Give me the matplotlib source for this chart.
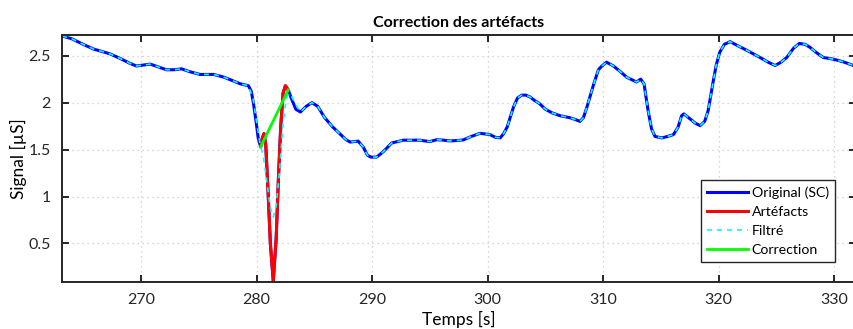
import numpy as np
import matplotlib
matplotlib.use("Agg")
import matplotlib.pyplot as plt

# =====================
# DATA
# =====================
t_orig = [263.16, 264.0, 265.0, 265.9, 267.3, 268.2, 269.0, 269.6, 270.2, 270.8,
          271.5, 272.2, 272.9, 273.5, 274.2, 275.1, 276.3, 277.2, 278.0, 278.6,
          279.3, 279.55, 279.75, 279.96, 280.15, 280.36,
          280.5, 280.65, 280.8, 281.0, 281.2, 281.45, 281.7, 281.9, 282.1, 282.3,
          282.5, 282.75,
          283.0, 283.4, 283.8, 284.3, 284.8, 285.3, 285.9, 286.6, 287.2, 287.7,
          288.1, 288.8, 289.25, 289.6, 289.9, 290.4, 291.0, 291.7, 292.7, 293.5,
          294.15, 295.0, 295.6, 296.2, 296.75, 297.4, 297.9, 298.6, 299.35, 300.2,
          300.7, 301.1, 301.4, 301.7, 302.24, 302.6, 302.96, 303.3, 303.68, 304.1,
          304.5, 305.0, 305.6, 306.3, 307.1, 307.6, 308.0, 308.3, 308.6, 309.2,
          309.6, 309.9, 310.3, 310.9, 311.5, 312.05, 312.9, 313.26, 313.55, 313.9,
          314.2, 314.5, 315.08, 315.6, 316.1, 316.5, 316.8, 317.0, 317.5, 318.0,
          318.4, 318.8, 319.1, 319.55, 319.8, 320.1, 320.5, 321.0, 321.6, 322.4,
          323.0, 323.6, 324.3, 324.9, 325.4, 325.9, 326.5, 327.0, 327.5, 327.9,
          328.5, 329.07, 329.6, 330.2, 330.9, 331.7]
sc_orig = [2.71, 2.68, 2.62, 2.57, 2.52, 2.47, 2.42, 2.39, 2.40, 2.41,
           2.38, 2.35, 2.35, 2.36, 2.33, 2.30, 2.30, 2.27, 2.23, 2.20,
           2.18, 2.12, 1.98, 1.80, 1.62, 1.53,
           1.62, 1.67, 1.55, 1.05, 0.50, 0.10, 0.55, 1.20, 1.75, 2.10,
           2.18, 2.135,
           2.05, 1.93, 1.90, 1.96, 2.00, 1.96, 1.84, 1.74, 1.67, 1.61,
           1.58, 1.59, 1.525, 1.44, 1.42, 1.42, 1.48, 1.57, 1.60, 1.60,
           1.60, 1.585, 1.605, 1.60, 1.592, 1.597, 1.603, 1.64, 1.673, 1.66,
           1.63, 1.625, 1.67, 1.74, 1.95, 2.05, 2.08, 2.08, 2.06, 2.02,
           1.99, 1.93, 1.89, 1.86, 1.84, 1.82, 1.80, 1.84, 1.95, 2.20,
           2.35, 2.39, 2.43, 2.39, 2.33, 2.27, 2.22, 2.25, 2.20, 1.915,
           1.72, 1.64, 1.624, 1.64, 1.66, 1.74, 1.86, 1.88, 1.83, 1.78,
           1.755, 1.80, 1.915, 2.234, 2.40, 2.535, 2.62, 2.649, 2.61, 2.56,
           2.52, 2.48, 2.43, 2.395, 2.43, 2.48, 2.58, 2.63, 2.62, 2.59,
           2.53, 2.48, 2.47, 2.455, 2.43, 2.394]

# artefact window
art_start, art_end = 280.36, 282.75

# filtered signal differs from original only around the artefact
t_filt_art = [279.3, 279.7, 280.0, 280.3, 280.6, 280.9, 281.2, 281.45, 281.7,
              282.0, 282.3, 282.6, 282.9, 283.3, 283.8]
sc_filt_art = [2.18, 2.04, 1.80, 1.56, 1.42, 1.15, 0.88, 0.78, 0.90,
               1.28, 1.78, 2.06, 2.10, 2.00, 1.90]

# linear correction across the artefact
t_corr = [280.36, 282.75]
sc_corr = [1.53, 2.135]

labels = ["Original (SC)", "Artéfacts", "Filtré", "Correction"]

# =====================
# BUILD SERIES
# =====================
t_orig = np.array(t_orig)
sc_orig = np.array(sc_orig)
art = (t_orig >= art_start) & (t_orig <= art_end)

before = t_orig < t_filt_art[0]
after = t_orig > t_filt_art[-1]
t_filt = np.concatenate([t_orig[before], t_filt_art, t_orig[after]])
sc_filt = np.concatenate([sc_orig[before], sc_filt_art, sc_orig[after]])

# =====================
# PLOT
# =====================
plt.rcParams['font.family'] = ['Lato', 'DejaVu Sans']
fig = plt.figure(figsize=(8.54, 3.29), dpi=100)
ax = fig.add_axes([62 / 854, 1 - 282 / 329, 794 / 854, 247 / 329])

ax.plot(t_orig, sc_orig, color=(0, 0, 1), lw=2.2, label=labels[0])
ax.plot(t_orig[art], sc_orig[art], color=(1, 0, 0), lw=2.2, label=labels[1])
ax.plot(t_filt, sc_filt, color=(0, 1, 1), lw=1.2, ls=(0, (3, 3)), label=labels[2])
ax.plot(t_corr, sc_corr, color=(0, 1, 0), lw=2.0, label=labels[3])

ax.set_xlim(263.16, 331.9)
ax.set_ylim(sc_orig.min() - 0.01, sc_orig.max() + 0.01)
ax.set_xticks(np.arange(270, 331, 10))
ax.set_yticks([0.5, 1, 1.5, 2, 2.5])
ax.set_yticklabels(["0.5", "1", "1.5", "2", "2.5"])

ax.grid(True, ls=(0, (1, 3)), color="#c8c8c8", lw=0.9)
for s in ax.spines.values():
    s.set_color("#262626")
    s.set_linewidth(1.4)
ax.tick_params(direction="in", top=True, right=True, length=5, width=1.4,
               colors="#262626", labelsize=11.5, pad=8)

ax.set_title("Correction des artéfacts", fontsize=11.5, fontweight="bold", pad=6)
ax.set_xlabel("Temps [s]", fontsize=12.5, labelpad=3)
ax.set_ylabel("Signal [µS]", fontsize=12.5, labelpad=1)

leg = ax.legend(loc="lower right", bbox_to_anchor=(0.974, 0.08), fontsize=10.2,
                frameon=True, fancybox=False, framealpha=1, edgecolor="#262626",
                handlelength=2.9, handletextpad=0.25, labelspacing=0.5,
                borderpad=0.45, borderaxespad=0)
leg.get_frame().set_linewidth(1.0)

fig.savefig("out.png", dpi=100)
